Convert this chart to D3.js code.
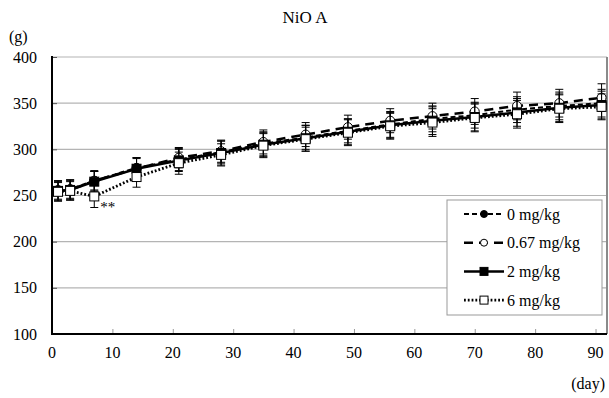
<!DOCTYPE html>
<html>
<head>
<meta charset="utf-8">
<script src="https://cdn.jsdelivr.net/npm/d3@7/dist/d3.min.js"></script>
<style>
  html, body { margin: 0; padding: 0; background: #fff; }
  svg { display: block; font-family: "Liberation Serif", "Times New Roman", serif; }
</style>
</head>
<body>
<svg id="chart" width="609" height="398"></svg>
<script>
// Body weight over time (days) by dose group
const days = [1, 3, 7, 14, 21, 28, 35, 42, 49, 56, 63, 70, 77, 84, 91];
const seriesNames = ["0 mg/kg", "0.67 mg/kg", "2 mg/kg", "6 mg/kg"];
const w0   = [256, 257, 266, 280, 289, 297, 306, 313, 320, 327, 333, 337, 343, 347, 350];
const w067 = [255, 256, 266, 279, 291, 298, 308, 316, 324, 331, 336, 341, 347, 350, 356];
const w2   = [255, 256, 265, 279, 288, 296, 305, 312, 319, 326, 331, 335, 340, 345, 348];
const w6   = [254, 255, 249, 270, 285, 294, 304, 311, 318, 325, 329, 334, 338, 344, 346];
const sd0   = [10, 10, 11, 11, 12, 12, 13, 13, 13, 14, 14, 14, 14, 15, 15];
const sd067 = [11, 10, 10, 11, 11, 12, 13, 13, 13, 13, 14, 14, 15, 15, 15];
const sd2   = [10, 11, 11, 12, 12, 13, 13, 14, 14, 14, 15, 15, 15, 15, 15];
const sd6   = [10, 10, 12, 11, 12, 12, 13, 13, 14, 14, 15, 15, 15, 15, 14];
const xTicks = [0, 10, 20, 30, 40, 50, 60, 70, 80, 90];
const yTicks = [100, 150, 200, 250, 300, 350, 400];

const svg = d3.select("#chart");
const plotL = 52, plotR = 607, plotT = 57, plotB = 334;
const x = d3.scaleLinear().domain([0, 91.9]).range([plotL, plotR]);
const y = d3.scaleLinear().domain([100, 400]).range([plotB, plotT]);

// Horizontal grid lines
svg.append("g").selectAll("line").data(yTicks.slice(1)).join("line")
  .attr("x1", plotL).attr("x2", plotR)
  .attr("y1", d => y(d)).attr("y2", d => y(d))
  .attr("stroke", "#b4b4b4").attr("stroke-width", 1.2);

// Right border of the plot area
svg.append("line").attr("x1", plotR).attr("x2", plotR).attr("y1", plotT).attr("y2", plotB)
  .attr("stroke", "#8a8a8a").attr("stroke-width", 2);

// Y axis with inward ticks
const yAxis = svg.append("g").attr("transform", `translate(${plotL},0)`)
  .call(d3.axisRight(y).tickValues(yTicks).tickSize(5).tickFormat(""));
yAxis.select(".domain").remove();
yAxis.selectAll(".tick line").attr("stroke", "#555");
svg.append("g").selectAll("text").data(yTicks).join("text")
  .attr("x", 37).attr("y", d => y(d) + 5.5)
  .attr("text-anchor", "end").attr("font-size", 16).text(d => d);

// X axis with inward ticks
const xAxis = svg.append("g").attr("transform", `translate(0,${plotB})`)
  .call(d3.axisTop(x).tickValues(xTicks.slice(1)).tickSize(5).tickFormat(""));
xAxis.select(".domain").remove();
xAxis.selectAll(".tick line").attr("stroke", "#999");
svg.append("g").selectAll("text").data(xTicks).join("text")
  .attr("x", d => x(d)).attr("y", 358)
  .attr("text-anchor", "middle").attr("font-size", 16).text(d => d);

svg.append("line").attr("x1", plotL).attr("x2", plotL).attr("y1", plotT - 1).attr("y2", plotB + 1)
  .attr("stroke", "#000").attr("stroke-width", 2);
svg.append("line").attr("x1", plotL - 1).attr("x2", plotR).attr("y1", plotB).attr("y2", plotB)
  .attr("stroke", "#000").attr("stroke-width", 2);

// Titles and units
svg.append("text").attr("x", 305).attr("y", 23).attr("text-anchor", "middle")
  .attr("font-size", 17).text("NiO A");
svg.append("text").attr("x", 9).attr("y", 42).attr("font-size", 16).text("(g)");
svg.append("text").attr("x", 605).attr("y", 389).attr("text-anchor", "end")
  .attr("font-size", 16).text("(day)");

const series = [
  { name: seriesNames[0], vals: w0,   sd: sd0,   dash: "5,3",   width: 2,   marker: "circle", fill: "#000" },
  { name: seriesNames[1], vals: w067, sd: sd067, dash: "9,6",   width: 2.5, marker: "circle", fill: "#fff" },
  { name: seriesNames[2], vals: w2,   sd: sd2,   dash: null,    width: 2.5, marker: "square", fill: "#000" },
  { name: seriesNames[3], vals: w6,   sd: sd6,   dash: "1.8,2", width: 2.8, marker: "square", fill: "#fff" }
];

const line = d3.line().x(d => x(d[0])).y(d => y(d[1]));

function drawMarker(g, m, fill, cx, cy, r) {
  if (m === "circle") {
    g.append("circle").attr("cx", cx).attr("cy", cy).attr("r", r)
      .attr("fill", fill).attr("stroke", "#000").attr("stroke-width", 1);
  } else {
    g.append("rect").attr("x", cx - r).attr("y", cy - r).attr("width", 2 * r).attr("height", 2 * r)
      .attr("fill", fill).attr("stroke", "#000").attr("stroke-width", 1);
  }
}

series.forEach(s => {
  const g = svg.append("g");
  const pts = days.map((d, i) => [d, s.vals[i]]);
  // error bars
  days.forEach((d, i) => {
    const cx = x(d), hi = y(s.vals[i] + s.sd[i]), lo = y(s.vals[i] - s.sd[i]);
    g.append("line").attr("x1", cx).attr("x2", cx).attr("y1", hi).attr("y2", lo)
      .attr("stroke", "#000").attr("stroke-width", 1);
    [hi, lo].forEach(yy => g.append("line").attr("x1", cx - 4).attr("x2", cx + 4)
      .attr("y1", yy).attr("y2", yy).attr("stroke", "#000").attr("stroke-width", 1));
  });
  g.append("path").datum(pts).attr("d", line).attr("fill", "none")
    .attr("stroke", "#000").attr("stroke-width", s.width)
    .attr("stroke-dasharray", s.dash);
  pts.forEach(p => drawMarker(g, s.marker, s.fill, x(p[0]), y(p[1]), s.marker === "circle" ? 4.5 : 4.5));
});

// Significance mark at day 7, 6 mg/kg
svg.append("text").attr("x", x(7) + 6).attr("y", y(w6[2]) + 16)
  .attr("font-size", 15).text("**");

// Legend
const lg = svg.append("g");
lg.append("rect").attr("x", 447).attr("y", 200).attr("width", 155).attr("height", 115)
  .attr("fill", "#fff").attr("stroke", "#999").attr("stroke-width", 1);
series.forEach((s, i) => {
  const yy = 214 + i * 28.7;
  lg.append("line").attr("x1", 464).attr("x2", 504).attr("y1", yy).attr("y2", yy)
    .attr("stroke", "#000").attr("stroke-width", s.width)
    .attr("stroke-dasharray", s.dash);
  drawMarker(lg, s.marker, s.fill, 484, yy, s.marker === "circle" ? 3.5 : 4);
  lg.append("text").attr("x", 507).attr("y", yy + 5.5).attr("font-size", 16).text(s.name);
});
</script>
</body>
</html>
